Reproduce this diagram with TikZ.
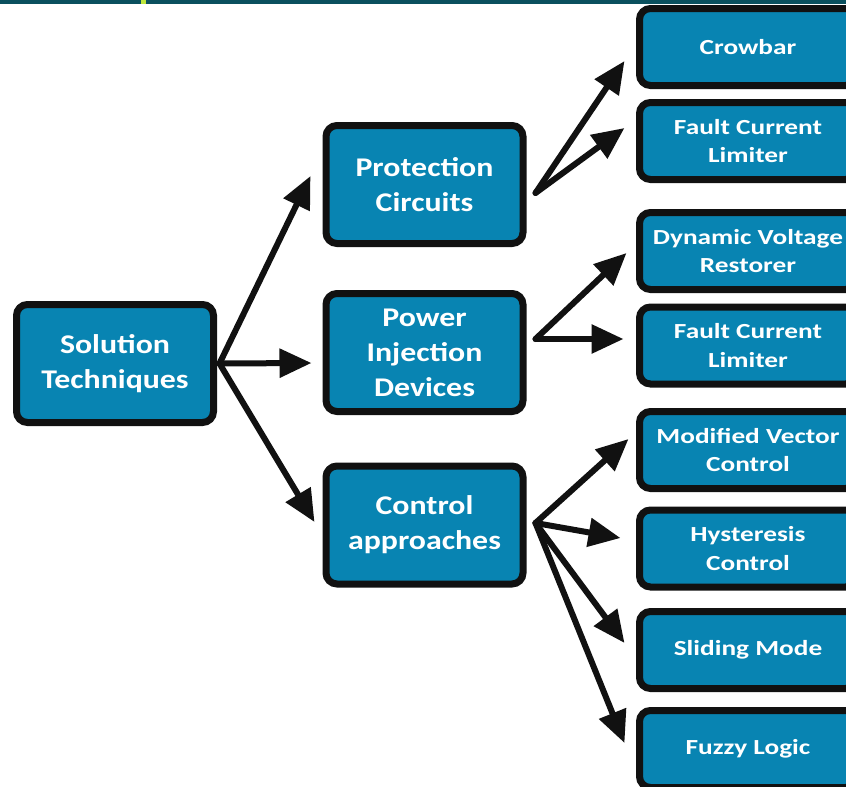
\documentclass[tikz,border=0pt]{standalone}
\usepackage{fontspec}
\setmainfont{Carlito}[FakeStretch=1.18]
\newfontfamily\smallfam{Carlito}[FakeStretch=1.27]
\usetikzlibrary{arrows.meta}
\definecolor{boxblue}{RGB}{8,132,178}
\definecolor{edgecol}{RGB}{17,17,17}
\definecolor{topbar}{RGB}{10,80,94}
\definecolor{markcol}{RGB}{190,230,60}
\tikzset{
  bigbox/.style={draw=edgecol, fill=boxblue, line width=7pt, rounded corners=11pt,
    minimum width=197pt, minimum height=118pt, text=white, align=center,
    font=\fontsize{27}{35}\selectfont\bfseries, inner sep=0pt},
  smallbox/.style={draw=edgecol, fill=boxblue, line width=7pt, rounded corners=11pt,
    minimum width=217pt, minimum height=77pt, text=white, align=center,
    font=\smallfam\fontsize{21.5}{28.5}\selectfont\bfseries, inner sep=0pt},
  conn/.style={draw=edgecol, line width=6pt, line cap=round,
    -{Triangle[length=32pt,width=28pt]}}
}
\begin{document}
\begin{tikzpicture}[x=1pt,y=-1pt]
\useasboundingbox (0,0) rectangle (846,787);
\fill[topbar] (0,0) rectangle (846,4);
\fill[markcol] (141,0) rectangle (146,4);

\node[bigbox] (sol) at (115,363.5) {Solution\\Techniques};
\node[bigbox] (prot) at (424.5,184.5) {Protection\\Circuits};
\node[bigbox] (pow) at (424.5,352.5) {Power\\Injection\\Devices};
\node[bigbox] (ctl) at (424.5,525) {Control\\approaches};

\node[smallbox] (crow) at (748,47) {Crowbar};
\node[smallbox] (fcla) at (748,141) {Fault Current\\Limiter};
\node[smallbox] (dvr) at (748,251) {Dynamic Voltage\\Restorer};
\node[smallbox] (fclb) at (748,345.5) {Fault Current\\Limiter};
\node[smallbox] (mvc) at (748,450) {Modified Vector\\Control};
\node[smallbox] (hys) at (748,548.5) {Hysteresis\\Control};
\node[smallbox] (sld) at (748,650) {Sliding Mode};
\node[smallbox] (fuz) at (748,749) {Fuzzy Logic};

\coordinate (sf) at ([xshift=2.5pt]sol.east);
\coordinate (pf) at ([shift={(9,8.5)}]prot.east);
\coordinate (if) at ([shift={(9,-13.5)}]pow.east);
\coordinate (cf) at ([shift={(9,-2)}]ctl.east);

\draw[conn] (sf) -- ([shift={(-12,-8.5)}]prot.west);
\draw[conn] (sf) -- ([shift={(-11,10.5)}]pow.west);
\draw[conn] (sf) -- ([shift={(-8,-3)}]ctl.west);

\draw[conn] (pf) -- ([shift={(-11.5,14)}]crow.west);
\draw[conn] (pf) -- ([shift={(-11.5,-13)}]fcla.west);

\draw[conn] (if) -- ([shift={(-9.5,2)}]dvr.west);
\draw[conn] (if) -- ([shift={(-12.5,-6.5)}]fclb.west);

\draw[conn] (cf) -- ([shift={(-7.5,-11)}]mvc.west);
\draw[conn] (cf) -- ([shift={(-15.5,-10.5)}]hys.west);
\draw[conn] (cf) -- ([shift={(-11.5,-7)}]sld.west);
\draw[conn] (cf) -- ([shift={(-11.5,-6)}]fuz.west);
\end{tikzpicture}
\end{document}
